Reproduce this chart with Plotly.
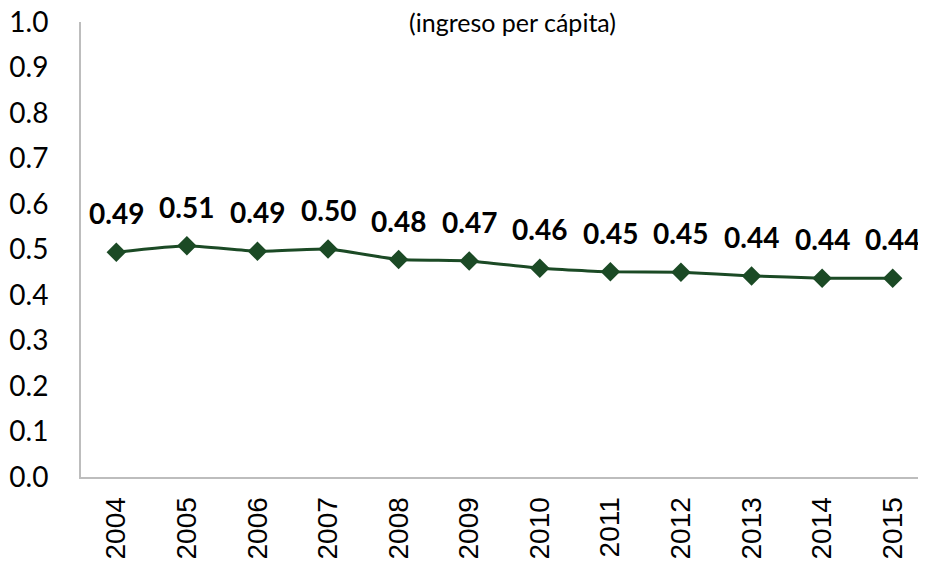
import plotly.graph_objects as go

years = ["2004", "2005", "2006", "2007", "2008", "2009",
         "2010", "2011", "2012", "2013", "2014", "2015"]
gini = [0.494, 0.508, 0.496, 0.501, 0.478, 0.475,
        0.459, 0.451, 0.450, 0.442, 0.437, 0.437]
labels = ["0.49", "0.51", "0.49", "0.50", "0.48", "0.47",
          "0.46", "0.45", "0.45", "0.44", "0.44", "0.44"]
y_ticks = [0.0, 0.1, 0.2, 0.3, 0.4, 0.5, 0.6, 0.7, 0.8, 0.9, 1.0]

green = "#1b4a25"

fig = go.Figure()
fig.add_trace(go.Scatter(
    x=years, y=gini, mode="lines+markers",
    line=dict(color=green, width=3, shape="spline", smoothing=0.4),
    marker=dict(symbol="diamond", size=15, color=green),
    hoverinfo="skip",
))

# data labels above each point (category index, since years look numeric)
for i, (v, lab) in enumerate(zip(gini, labels)):
    fig.add_annotation(x=i, y=v, text="<b>" + lab + "</b>", showarrow=False,
                       yshift=39, yanchor="middle",
                       font=dict(family="Lato", size=28, color="black"))

fig.add_annotation(x=0.51, y=1.0, xref="paper", yref="paper", text="(ingreso per cápita)",
                   showarrow=False, xanchor="center", yanchor="middle", yshift=0,
                   font=dict(family="Lato", size=25, color="black"))

# page body has an 8px offset, so margins are shifted to compensate
fig.update_layout(
    width=926, height=562,
    margin=dict(l=73, r=6, t=14, b=93),
    plot_bgcolor="white", paper_bgcolor="white",
    showlegend=False,
)
fig.update_xaxes(
    type="category", range=[-0.5, 11.5], automargin=False,
    showline=True, linecolor="#bdbdbd", linewidth=2,
    showgrid=False, ticks="", tickangle=-90,
    tickfont=dict(family="Liberation Sans", size=28, color="black"),
    ticklabelstandoff=7, ticklabeloverflow="allow",
)
fig.update_yaxes(
    range=[0, 1.0], tickvals=y_ticks, tickformat=".1f", automargin=False,
    showline=True, linecolor="#bdbdbd", linewidth=2,
    showgrid=False, ticks="", zeroline=False,
    tickfont=dict(family="Lato", size=28, color="black"),
    ticklabelstandoff=25, ticklabeloverflow="allow",
)

fig.write_html("out.html")
